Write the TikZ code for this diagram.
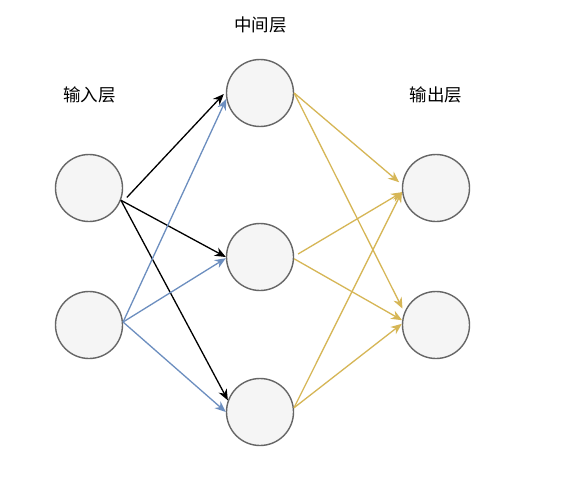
\documentclass[tikz,border=0pt]{standalone}
\usepackage{fontspec}
\newfontfamily\cjk{Noto Sans CJK SC}
\usetikzlibrary{arrows.meta}
\definecolor{nodefill}{HTML}{F5F5F5}
\definecolor{nodeline}{HTML}{666666}
\definecolor{bluel}{HTML}{6C8EBF}
\definecolor{yell}{HTML}{D6B656}
\begin{document}
\begin{tikzpicture}[x=1pt,y=-1pt,
  neuron/.style={circle,draw=nodeline,fill=nodefill,line width=1.4pt,minimum size=67pt,inner sep=0pt},
  lbl/.style={font=\cjk\fontsize{17.5}{19}\selectfont,inner sep=0pt},
  conn/.style={line width=1.3pt,-{Stealth[length=11pt,width=9pt,inset=3.5pt]}},
  blk/.style={conn,draw=black},
  blu/.style={conn,draw=bluel},
  yel/.style={conn,draw=yell}]
\useasboundingbox (0,0) rectangle (588,484);
\fill[white] (0,0) rectangle (588,484);
\node[neuron] (i1) at (89,188) {};
\node[neuron] (i2) at (89,325) {};
\node[neuron] (h1) at (260,93) {};
\node[neuron] (h2) at (260,257) {};
\node[neuron] (h3) at (260,412) {};
\node[neuron] (o1) at (436,188) {};
\node[neuron] (o2) at (436,325) {};
\node[lbl] (l1) at (89.5,95) {输入层};
\node[lbl] (l2) at (260.5,25) {中间层};
\node[lbl] (l3) at (436,95) {输出层};
% input 1 (black)
\draw[blk] ([shift={(5,0)}]i1.-16) -- ([shift={(-2,1)}]h1.west);
\draw[blk] (i1.-21) -- (h2.west);
\draw[blk] (i1.-21) -- (h3.160);
% input 2 (blue)
\draw[blu] (i2.5) -- (h1.190);
\draw[blu] (i2.5) -- (h2.182);
\draw[blu] (i2.5) -- (h3.west);
% hidden -> output (yellow)
\draw[yel] (h1.east) -- ([shift={(-3,-1)}]o1.172);
\draw[yel, shorten >=4pt] (h1.east) -- (o2.158);
\draw[yel] ([shift={(4,0)}]h2.5) -- (o1.187);
\draw[yel] (h2.-3) -- (o2.172);
\draw[yel] (h3.7) -- (o1.186);
\draw[yel] (h3.7) -- (o2.178);
\end{tikzpicture}
\end{document}
